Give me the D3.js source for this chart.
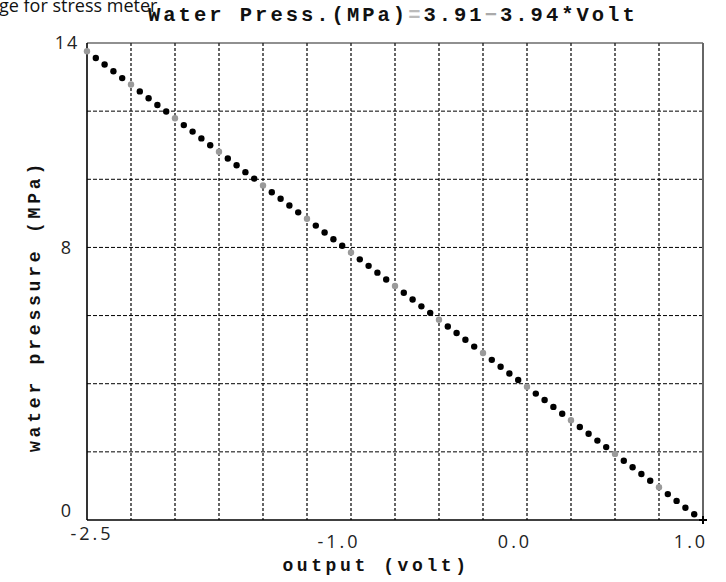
<!DOCTYPE html>
<html>
<head>
<meta charset="utf-8">
<script src="https://cdn.jsdelivr.net/npm/d3@7"></script>
<style>
  body { margin: 0; background: #fff; }
  svg { display: block; }
</style>
</head>
<body>
<div id="chart"></div>
<script>
// output voltage of each reading (volt)
const volts = [
  -2.50, -2.45, -2.40, -2.35, -2.30, -2.25, -2.20, -2.15, -2.10, -2.05,
  -2.00, -1.95, -1.90, -1.85, -1.80, -1.75, -1.70, -1.65, -1.60, -1.55,
  -1.50, -1.45, -1.40, -1.35, -1.30, -1.25, -1.20, -1.15, -1.10, -1.05,
  -1.00, -0.95, -0.90, -0.85, -0.80, -0.75, -0.70, -0.65, -0.60, -0.55,
  -0.50, -0.45, -0.40, -0.35, -0.30, -0.25, -0.20, -0.15, -0.10, -0.05,
   0.00,  0.05,  0.10,  0.15,  0.20,  0.25,  0.30,  0.35,  0.40,  0.45,
   0.50,  0.55,  0.60,  0.65,  0.70,  0.75,  0.80,  0.85,  0.90,  0.95
];
// water pressure (MPa)
const pressures = [
  13.76, 13.56, 13.37, 13.17, 12.97, 12.78, 12.58, 12.38, 12.18, 11.99,
  11.79, 11.59, 11.40, 11.20, 11.00, 10.81, 10.61, 10.41, 10.21, 10.02,
   9.82,  9.62,  9.43,  9.23,  9.03,  8.84,  8.64,  8.44,  8.24,  8.05,
   7.85,  7.65,  7.46,  7.26,  7.06,  6.87,  6.67,  6.47,  6.27,  6.08,
   5.88,  5.68,  5.49,  5.29,  5.09,  4.90,  4.70,  4.50,  4.30,  4.11,
   3.91,  3.71,  3.52,  3.32,  3.12,  2.93,  2.73,  2.53,  2.33,  2.14,
   1.94,  1.74,  1.55,  1.35,  1.15,  0.96,  0.76,  0.56,  0.36,  0.17
];

const xGrid = [-2.25, -2.0, -1.75, -1.5, -1.25, -1.0, -0.75, -0.5, -0.25, 0.0, 0.25, 0.5, 0.75];
const yGrid = [2, 4, 6, 8, 10, 12];
const xTickValues = [-2.5, -1.0, 0.0, 1.0];
const xTickLabels = ["-2.5", "-1.0", "0.0", "1.0"];
const yTickValues = [0, 8, 14];
const yTickLabels = ["0", "8", "14"];

const width = 726, height = 582;
const margin = {top: 43, right: 23, bottom: 62, left: 87};

const svg = d3.select("#chart")
    .append("svg")
    .attr("width", width)
    .attr("height", height);

const x = d3.scaleLinear()
    .domain([-2.5, 1.0])
    .range([margin.left, width - margin.right]);

const y = d3.scaleLinear()
    .domain([0, 14])
    .range([height - margin.bottom, margin.top]);

const mono = "'Liberation Mono', 'DejaVu Sans Mono', monospace";
const sans = "'Open Sans', 'Noto Sans', sans-serif";

// clipped caption at the very top
svg.append("text")
    .attr("x", -1)
    .attr("y", 12)
    .style("font-family", sans)
    .style("font-size", "18px")
    .attr("fill", "#111")
    .text("ge for stress meter");

// title
const title = svg.append("text")
    .attr("x", 148)
    .attr("y", 21)
    .style("font-family", mono)
    .style("font-weight", "bold")
    .style("font-size", "20.5px")
    .style("letter-spacing", "3px")
    .attr("fill", "#111");
title.append("tspan").text("Water Press.(MPa)");
title.append("tspan").attr("fill", "#bbb").text("=");
title.append("tspan").text("3.91");
title.append("tspan").attr("fill", "#aaa").text("\u2212");
title.append("tspan").text("3.94*Volt");

// grid
svg.append("g")
    .selectAll("line")
    .data(xGrid)
    .enter()
    .append("line")
    .attr("x1", d => x(d)).attr("x2", d => x(d))
    .attr("y1", y(14)).attr("y2", y(0))
    .attr("stroke", "#000")
    .attr("stroke-width", 1.2)
    .attr("stroke-dasharray", "3,2");

svg.append("g")
    .selectAll("line")
    .data(yGrid)
    .enter()
    .append("line")
    .attr("x1", x(-2.5)).attr("x2", x(1.0))
    .attr("y1", d => y(d)).attr("y2", d => y(d))
    .attr("stroke", "#000")
    .attr("stroke-width", 1)
    .attr("stroke-dasharray", "4,2");

// frame
svg.append("line")
    .attr("x1", x(-2.5)).attr("x2", x(1.0))
    .attr("y1", y(14)).attr("y2", y(14))
    .attr("stroke", "#222").attr("stroke-width", 1.2);
svg.append("line")
    .attr("x1", x(1.0)).attr("x2", x(1.0))
    .attr("y1", y(14)).attr("y2", y(0))
    .attr("stroke", "#666").attr("stroke-width", 2);
svg.append("line")
    .attr("x1", x(-2.5)).attr("x2", x(1.0))
    .attr("y1", y(0)).attr("y2", y(0))
    .attr("stroke", "#000").attr("stroke-width", 1.6);
svg.append("line")
    .attr("x1", x(-2.5)).attr("x2", x(-2.5))
    .attr("y1", y(14)).attr("y2", y(0))
    .attr("stroke", "#000").attr("stroke-width", 1.6);

// corner cross
svg.append("path")
    .attr("d", `M${x(1.0) - 4},${y(0)}h8M${x(1.0)},${y(0) - 4}v8`)
    .attr("stroke", "#000")
    .attr("stroke-width", 2);

// points (the ones sitting on a grid line come out faint in the scan)
svg.append("g")
    .selectAll("circle")
    .data(volts.map((v, i) => ({v: v, p: pressures[i]})))
    .enter()
    .append("circle")
    .attr("cx", d => x(d.v))
    .attr("cy", d => y(d.p))
    .attr("r", 3.2)
    .attr("fill", d => Math.abs(d.v * 4 - Math.round(d.v * 4)) < 1e-6 ? "#9a9a9a" : "#000");

// tick labels
svg.append("g")
    .selectAll("text")
    .data(xTickValues)
    .enter()
    .append("text")
    .attr("x", d => Math.max(x(d) - 12, 92))
    .attr("y", (d, i) => i === 0 ? 540 : 548)
    .attr("text-anchor", "middle")
    .style("font-family", sans)
    .style("font-size", "18px")
    .style("letter-spacing", "3px")
    .attr("fill", "#222")
    .text((d, i) => xTickLabels[i]);

svg.append("g")
    .selectAll("text")
    .data(yTickValues)
    .enter()
    .append("text")
    .attr("x", 67)
    .attr("y", d => Math.min(y(d), 511))
    .attr("dy", "0.36em")
    .attr("text-anchor", "middle")
    .style("font-family", sans)
    .style("font-size", "18px")
    .style("letter-spacing", "2px")
    .attr("fill", "#222")
    .text((d, i) => yTickLabels[i]);

// axis titles
svg.append("text")
    .attr("x", 376)
    .attr("y", 571)
    .attr("text-anchor", "middle")
    .style("font-family", mono)
    .style("font-weight", "bold")
    .style("font-size", "18px")
    .style("letter-spacing", "3.6px")
    .attr("fill", "#111")
    .text("output (volt)");

svg.append("text")
    .attr("transform", "translate(40,306) rotate(-90)")
    .attr("text-anchor", "middle")
    .style("font-family", mono)
    .style("font-weight", "bold")
    .style("font-size", "18px")
    .style("letter-spacing", "3.8px")
    .attr("fill", "#111")
    .text("water pressure (MPa)");
</script>
</body>
</html>
